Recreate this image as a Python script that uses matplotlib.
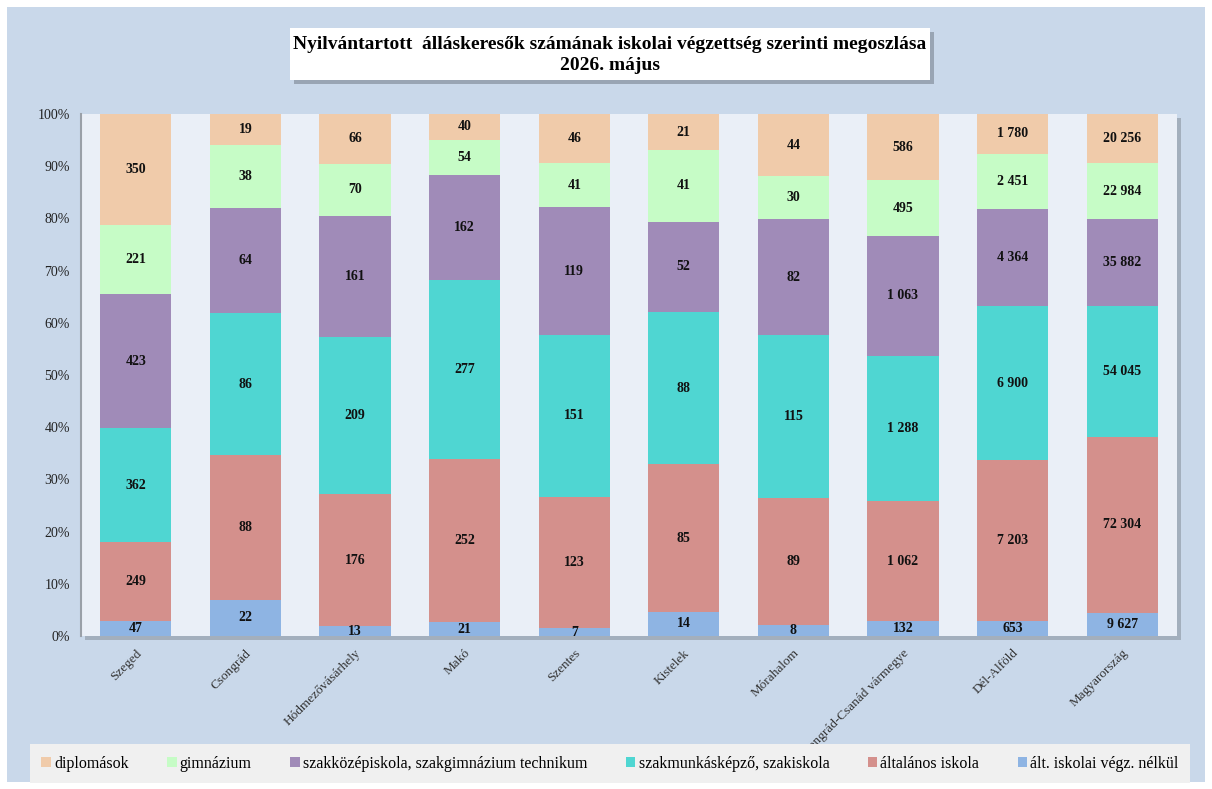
import numpy as np
import matplotlib.pyplot as plt
from matplotlib.patches import Rectangle

plt.rcParams['font.family'] = ['Liberation Serif', 'DejaVu Serif']

# --- data (bottom segment first) ---
places = ['Szeged', 'Csongrád', 'Hódmezővásárhely', 'Makó', 'Szentes', 'Kistelek',
          'Mórahalom', 'Csongrád-Csanád vármegye', 'Dél-Alföld', 'Magyarország']
alt_nelkul = [47, 22, 13, 21, 7, 14, 8, 132, 653, 9627]
altalanos = [249, 88, 176, 252, 123, 85, 89, 1062, 7203, 72304]
szakmunkas = [362, 86, 209, 277, 151, 88, 115, 1288, 6900, 54045]
szakkozep = [423, 64, 161, 162, 119, 52, 82, 1063, 4364, 35882]
gimnazium = [221, 38, 70, 54, 41, 41, 30, 495, 2451, 22984]
diplomas = [350, 19, 66, 40, 46, 21, 44, 586, 1780, 20256]

series_names = ['ált. iskolai végz. nélkül', 'általános iskola', 'szakmunkásképző, szakiskola',
                'szakközépiskola, szakgimnázium technikum', 'gimnázium', 'diplomások']
series_vals = [alt_nelkul, altalanos, szakmunkas, szakkozep, gimnazium, diplomas]
colors = ['#8eb4e3', '#d4908c', '#4fd6d2', '#a08bb8', '#c6fcc6', '#f0cbaa']

W, H = 1212, 789
fig = plt.figure(figsize=(W / 100, H / 100), dpi=100)
fig.patch.set_facecolor('white')

# light blue chart panel
fig.add_artist(Rectangle((7 / W, 1 - 782 / H), 1198 / W, 775 / H, transform=fig.transFigure,
                         facecolor='#c9d8ea', edgecolor='none', zorder=-10))

# plot area + shadow
ax_l, ax_r, ax_t, ax_b = 81, 1177, 114, 636
fig.add_artist(Rectangle(((ax_l + 4) / W, 1 - (ax_b + 4) / H), (ax_r - ax_l) / W, (ax_b - ax_t) / H,
                         transform=fig.transFigure, facecolor='#8a94a0', alpha=0.6,
                         edgecolor='none', zorder=-5))
ax = fig.add_axes([ax_l / W, 1 - ax_b / H, (ax_r - ax_l) / W, (ax_b - ax_t) / H])
ax.set_facecolor('#eaeff7')

totals = np.sum(np.array(series_vals, dtype=float), axis=0)
x = np.arange(len(places))
bottom = np.zeros(len(places))
for name, vals, col in zip(series_names, series_vals, colors):
    share = np.array(vals) / totals * 100
    ax.bar(x, share, 0.65, bottom=bottom, color=col, label=name, zorder=2)
    for xi, b, s, v in zip(x, bottom, share, vals):
        txt = f'{v:,}'.replace(',', ' ')
        ax.text(xi, b + s / 2, txt, ha='center', va='center', fontsize=10,
                fontweight='bold', color='#111111', zorder=3)
    bottom += share

ax.set_xlim(-0.5, len(places) - 0.5)
ax.set_ylim(0, 100)
ax.set_yticks(np.arange(0, 101, 10))
ax.set_yticklabels([f'{v}%' for v in range(0, 101, 10)], fontsize=10, color='#222222')
ax.set_xticks(x)
ax.set_xticklabels(places, rotation=45, ha='right', rotation_mode='anchor',
                   fontsize=9.5, color='#333333')
ax.tick_params(length=0, pad=8)
for s in ['top', 'right', 'bottom']:
    ax.spines[s].set_visible(False)
ax.spines['left'].set_color('#9aa0a8')
ax.spines['left'].set_linewidth(1.5)

# title box
tb_l, tb_r, tb_t, tb_b = 290, 930, 28, 80
fig.add_artist(Rectangle(((tb_l + 4) / W, 1 - (tb_b + 4) / H), (tb_r - tb_l) / W, (tb_b - tb_t) / H,
                         transform=fig.transFigure, facecolor='#7a8490', alpha=0.6,
                         edgecolor='none', zorder=1))
fig.add_artist(Rectangle((tb_l / W, 1 - tb_b / H), (tb_r - tb_l) / W, (tb_b - tb_t) / H,
                         transform=fig.transFigure, facecolor='white', edgecolor='none', zorder=2))
fig.text((tb_l + tb_r) / 2 / W, 1 - 55 / H,
         'Nyilvántartott  álláskeresők számának iskolai végzettség szerinti megoszlása\n2026. május',
         ha='center', va='center', fontsize=14, fontweight='bold', linespacing=1.25, zorder=3)

# legend
handles, labels = ax.get_legend_handles_labels()
leg = fig.legend(handles[::-1], labels[::-1], ncol=6, mode='expand',
                 bbox_to_anchor=(30 / W, 1 - 782 / H, 1160 / W, 37 / H), loc='center',
                 frameon=True, fancybox=False, facecolor='#f0f0f0', edgecolor='none',
                 framealpha=1, fontsize=11.5, handlelength=0.6, handleheight=0.6,
                 handletextpad=0.2, borderaxespad=0, borderpad=0.7)

fig.savefig('out.png', dpi=100)
